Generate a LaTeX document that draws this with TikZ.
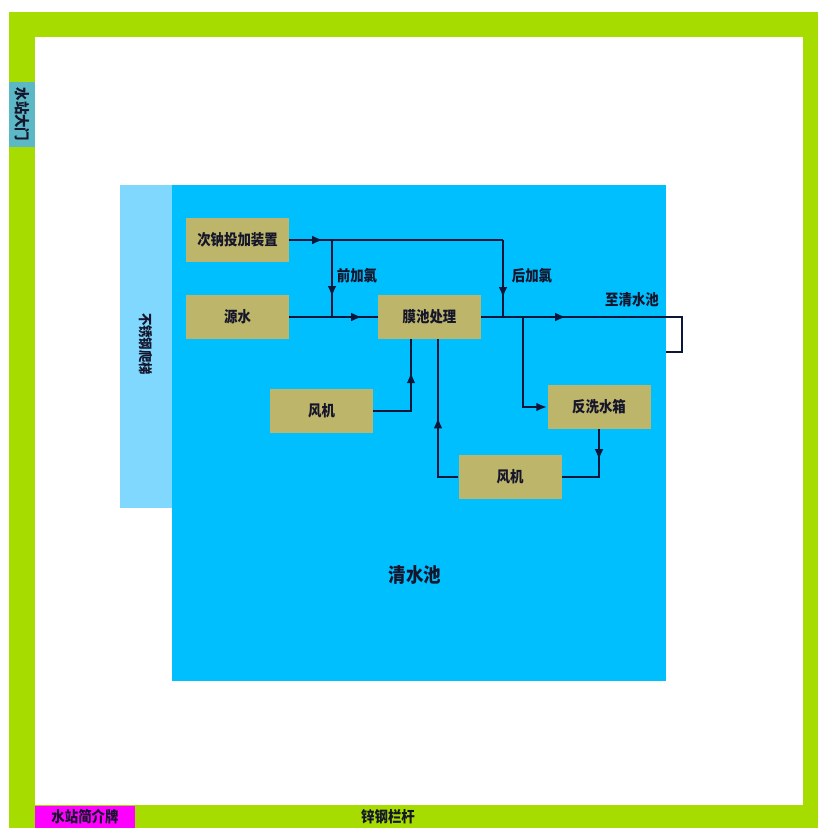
\documentclass[tikz,border=0pt]{standalone}
\usepackage{fontspec}
\usetikzlibrary{arrows.meta,decorations.markings}
\newfontfamily\cjk{Noto Sans CJK SC}[FakeStretch=0.88]
\definecolor{fence}{HTML}{A6DC00}
\definecolor{pool}{HTML}{00BFFF}
\definecolor{ladder}{HTML}{80D8FF}
\definecolor{gatecol}{HTML}{5BB8C4}
\definecolor{signcol}{HTML}{FF00FF}
\definecolor{unitcol}{HTML}{BDB56A}
\definecolor{ink}{HTML}{15152B}
\definecolor{pipecol}{HTML}{0B1638}
\tikzset{
  unitbox/.style={fill=unitcol, minimum width=3.09cm, minimum height=1.32cm,
    inner sep=0pt, font=\cjk\bfseries\fontsize{13}{15}\selectfont, text=ink},
  lbl/.style={font=\cjk\bfseries\fontsize{13}{15}\selectfont, text=ink, inner sep=0pt},
  pipe/.style={draw=pipecol, line width=1.9pt},
  flowmark/.style={postaction={decorate}, decoration={markings,
    mark=at position #1 with {\arrow[pipecol]{Latex[length=3.3mm,width=2.6mm]}}}},
  endarr/.style={-{Latex[length=3.3mm,width=2.6mm]}}
}

\begin{document}
\begin{tikzpicture}[x=0.03cm,y={(0cm,-0.03cm)}]
        \useasboundingbox (0,0) rectangle (818,828);
        % fence, gate and sign
        \fill[fence] (9,12) rectangle (818,828);
        \fill[white] (35,37) rectangle (803,805);
        \fill[gatecol] (9,82) rectangle (35,147);
        \fill[signcol] (35,806) rectangle (135,828);
        \node[lbl, rotate=-90] (gate) at (22,114.5) {水站大门};
        \node[lbl] (sign) at (85,817) {水站简介牌};
        \node[lbl] (fencelbl) at (388,817) {锌钢栏杆};
        % pool and ladder
        \fill[pool] (172,185) rectangle (666,681);
        \fill[ladder] (120,185) rectangle (172,508);
        \node[lbl, rotate=-90, font=\cjk\bfseries\fontsize{12}{14}\selectfont] (ladderlbl) at (146,344) {不锈钢爬梯};
        \node[lbl, font=\cjk\bfseries\fontsize{17}{20}\selectfont] (poollbl) at (415,575) {清水池};
        % units
        \node[unitbox] (dose) at (237.5,240) {次钠投加装置};
        \node[unitbox] (raw) at (237.5,317) {源水};
        \node[unitbox] (memb) at (429.5,317) {膜池处理};
        \node[unitbox] (fanA) at (321.5,411) {风机};
        \node[unitbox] (tank) at (599,407) {反洗水箱};
        \node[unitbox] (fanB) at (510,477) {风机};
        % junctions
        \coordinate (pre) at (332,240);
        \coordinate (post) at (503,240);
        \coordinate (bw) at (523,317);
        \coordinate (airA) at (411,339);
        \coordinate (airB) at (438,339);
        \coordinate (outR) at (682,317);
        \coordinate (outE) at (666,352);
        % pipes
        \draw[pipe, flowmark=1.02cm] (dose.east) -- (post);
        \draw[pipe, flowmark=1.71cm] (pre) -- (pre |- raw.east);
        \draw[pipe, flowmark=1.74cm] (post) -- (post |- memb.east);
        \draw[pipe, flowmark=2.19cm] (raw.east) -- (memb.west);
        \draw[pipe, flowmark=2.55cm] (memb.east) -- (outR) |- (outE);
        \draw[pipe, endarr] (bw) |- (tank.west);
        \draw[pipe, flowmark=2.3cm] (fanA.east) -| (airA);
        \draw[pipe, flowmark=2.4cm] (fanB.west) -| (airB);
        \draw[pipe, flowmark=0.93cm] (tank.south) |- (fanB.east);
        % labels
        \node[lbl] (prelbl) at (357,276) {前加氯};
        \node[lbl] (postlbl) at (532,276) {后加氯};
        \node[lbl] (outlbl) at (632,300) {至清水池};
      \end{tikzpicture}
\end{document}
